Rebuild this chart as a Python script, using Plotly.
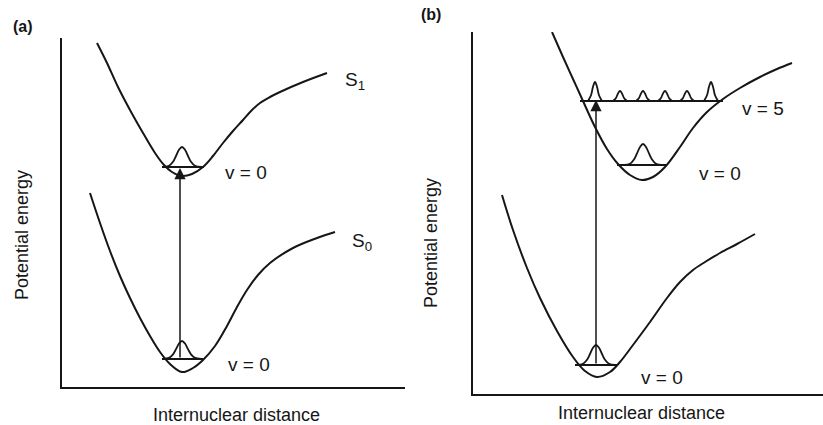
import plotly.graph_objects as go

# ---------------- data (schematic units) ----------------
# Panel (a): S1 and S0 potential curves
A_S1_X = [35, 45, 56, 68, 81, 93, 102, 110, 120, 130, 141, 151, 161, 171, 181, 190, 198, 208, 218, 241, 265]
A_S1_Y = [344, 324, 300, 277, 254, 234, 222, 215, 211, 213, 220, 231, 244, 256, 267, 277, 284, 290, 295, 305, 314]
A_S0_X = [28, 38, 48, 58, 68, 78, 88, 98, 108, 120, 131, 141, 153, 165, 175, 185, 196, 208, 231, 255, 273]
A_S0_Y = [194, 164, 136, 111, 89, 69, 51, 35, 23, 15, 19, 27, 41, 61, 80, 97, 112, 124, 139, 149, 155]
A_LEVEL_Y = [220, 28]
A_LEVEL_X0 = [100, 100]
A_LEVEL_X1 = [142, 141]
A_WAVE_X = [120, 120]
A_WAVE_AMP = [20, 18]
A_ARROW_X = 118
A_ARROW_FROM = 28
A_ARROW_TO = 219

# Panel (b): upper and lower potential curves
B_UP_X = [79, 90, 100, 110, 122, 134, 145, 157, 169, 180, 192, 207, 220, 234, 250, 267, 287, 304, 319]
B_UP_Y = [362, 337, 315, 293, 267, 245, 230, 219, 214, 217, 227, 247, 266, 282, 295, 306, 317, 325, 331]
B_LO_X = [29, 40, 54, 67, 84, 100, 112, 124, 137, 147, 160, 177, 194, 207, 220, 232, 247, 264, 282]
B_LO_Y = [199, 164, 126, 96, 63, 37, 23, 17, 22, 32, 49, 72, 96, 112, 124, 132, 141, 150, 160]
B_LEVEL_Y = [293, 229, 29]
B_LEVEL_X0 = [107, 144, 102]
B_LEVEL_X1 = [250, 194, 145]
B_V0_X = [170, 123]
B_V0_Y = [229, 29]
B_V0_AMP = [21, 20]
B_V5_Y = 293
B_V5_LOBE_X = [122, 147, 170, 192, 214, 238]
B_V5_LOBE_AMP = [19, 10, 10, 10, 10, 19]
B_ARROW_X = 123
B_ARROW_FROM = 29
B_ARROW_TO = 294

# wavefunction shapes (offset, fraction of peak)
V0_DX = [-19, -13, -9, -6, -3, 0, 3, 6, 9, 13, 19]
V0_FRAC = [0, 0.06, 0.26, 0.55, 0.86, 1, 0.86, 0.55, 0.26, 0.06, 0]
LOBE_DX = [-7, -4, -2, 0, 2, 4, 7]
LOBE_FRAC = [0, 0.3, 0.75, 1, 0.75, 0.3, 0]

# labels
A_LABELS = [("v = 0", 184, 214), ("v = 0", 187, 23), ("S<sub>1</sub>", 293, 306), ("S<sub>0</sub>", 300, 145)]
B_LABELS = [("v = 5", 290, 286), ("v = 0", 247, 221), ("v = 0", 189, 17)]

INK = "#161616"
FONT = "Liberation Sans, Arial, sans-serif"


def hump(cx, base, amp, dx, frac):
    return [cx + d for d in dx], [base + amp * f for f in frac]


def segs(xs0, xs1, ys):
    x, y = [], []
    for a, b, c in zip(xs0, xs1, ys):
        x += [a, b, None]
        y += [c, c, None]
    return x, y


fig = go.Figure()
curve = dict(color=INK, width=2, shape="spline", smoothing=1.0)

for xa, ya, xs, ys in [("x", "y", A_S1_X, A_S1_Y), ("x", "y", A_S0_X, A_S0_Y),
                       ("x2", "y2", B_UP_X, B_UP_Y), ("x2", "y2", B_LO_X, B_LO_Y)]:
    fig.add_trace(go.Scatter(x=xs, y=ys, mode="lines", line=curve, xaxis=xa, yaxis=ya,
                             hoverinfo="skip", showlegend=False))

# vibrational levels
lx, ly = segs(A_LEVEL_X0, A_LEVEL_X1, A_LEVEL_Y)
fig.add_trace(go.Scatter(x=lx, y=ly, mode="lines", line=dict(color=INK, width=2),
                         xaxis="x", yaxis="y", hoverinfo="skip", showlegend=False))
lx, ly = segs(B_LEVEL_X0, B_LEVEL_X1, B_LEVEL_Y)
fig.add_trace(go.Scatter(x=lx, y=ly, mode="lines", line=dict(color=INK, width=2),
                         xaxis="x2", yaxis="y2", hoverinfo="skip", showlegend=False))

# wavefunctions
wx, wy = [], []
for cx, base, amp in zip(A_WAVE_X, A_LEVEL_Y, A_WAVE_AMP):
    hx, hy = hump(cx, base, amp, V0_DX, V0_FRAC)
    wx += hx + [None]
    wy += hy + [None]
fig.add_trace(go.Scatter(x=wx, y=wy, mode="lines", line=dict(color=INK, width=1.8, shape="spline"),
                         xaxis="x", yaxis="y", hoverinfo="skip", showlegend=False))
wx, wy = [], []
for cx, base, amp in zip(B_V0_X, B_V0_Y, B_V0_AMP):
    hx, hy = hump(cx, base, amp, V0_DX, V0_FRAC)
    wx += hx + [None]
    wy += hy + [None]
for cx, amp in zip(B_V5_LOBE_X, B_V5_LOBE_AMP):
    hx, hy = hump(cx, B_V5_Y, amp, LOBE_DX, LOBE_FRAC)
    wx += hx + [None]
    wy += hy + [None]
fig.add_trace(go.Scatter(x=wx, y=wy, mode="lines", line=dict(color=INK, width=1.8, shape="spline"),
                         xaxis="x2", yaxis="y2", hoverinfo="skip", showlegend=False))

ann = []
for xr, yr, xv, y0, y1 in [("x", "y", A_ARROW_X, A_ARROW_FROM, A_ARROW_TO),
                           ("x2", "y2", B_ARROW_X, B_ARROW_FROM, B_ARROW_TO)]:
    ann.append(dict(xref=xr, yref=yr, axref=xr, ayref=yr, x=xv, y=y1, ax=xv, ay=y0,
                    showarrow=True, arrowhead=2, arrowsize=1.5, arrowwidth=1.5,
                    arrowcolor=INK, text=""))

for txt, xv, yv in A_LABELS:
    ann.append(dict(xref="x", yref="y", x=xv, y=yv, text=txt, showarrow=False,
                    font=dict(family=FONT, size=19, color=INK)))
for txt, xv, yv in B_LABELS:
    ann.append(dict(xref="x2", yref="y2", x=xv, y=yv, text=txt, showarrow=False,
                    font=dict(family=FONT, size=19, color=INK)))

for txt, xv, yv, ang, sz in [("<b>(a)</b>", 23 / 823, 1 - 27 / 425, 0, 16),
                             ("<b>(b)</b>", 431 / 823, 1 - 15 / 425, 0, 16),
                             ("Potential energy", 22 / 823, 1 - 235 / 425, -90, 18),
                             ("Potential energy", 431 / 823, 1 - 243 / 425, -90, 18),
                             ("Internuclear distance", 237 / 823, 1 - 415 / 425, 0, 18),
                             ("Internuclear distance", 641 / 823, 1 - 413 / 425, 0, 18)]:
    ann.append(dict(xref="paper", yref="paper", x=xv, y=yv, text=txt, showarrow=False,
                    textangle=ang, xanchor="center", yanchor="middle",
                    font=dict(family=FONT, size=sz, color=INK)))

axis = dict(showline=True, linecolor=INK, linewidth=2, showgrid=False, zeroline=False,
            showticklabels=False, ticks="", fixedrange=True)

fig.update_layout(
    width=823, height=425,
    margin=dict(l=0, r=0, t=0, b=0),
    paper_bgcolor="white", plot_bgcolor="white",
    xaxis=dict(axis, domain=[62 / 823, 405 / 823], range=[0, 343]),
    yaxis=dict(axis, domain=[(425 - 387) / 425, (425 - 38) / 425], range=[0, 349]),
    xaxis2=dict(axis, domain=[473 / 823, 1.0], range=[0, 350], anchor="y2"),
    yaxis2=dict(axis, domain=[(425 - 394) / 425, (425 - 32) / 425], range=[0, 362], anchor="x2"),
    annotations=ann,
    showlegend=False,
)

fig.write_html("out.html", config={"displayModeBar": False},
               post_script="document.body.style.margin='0px';")
